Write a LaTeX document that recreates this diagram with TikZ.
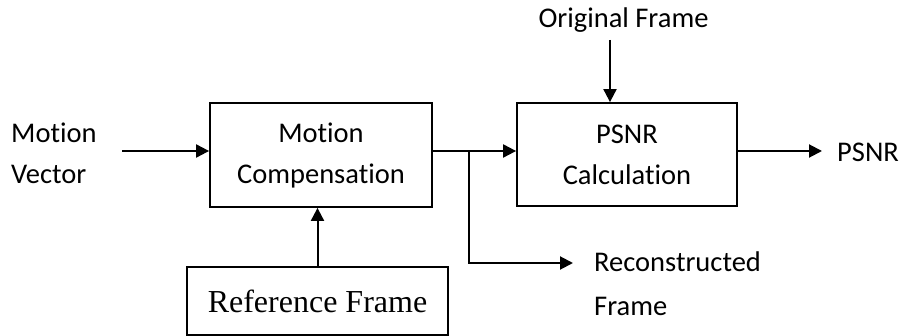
\documentclass[tikz,border=0pt]{standalone}
\usepackage{fontspec}
\setmainfont[Ligatures=NoCommon]{Carlito}
\newfontfamily\timesfont{Liberation Serif}
\usetikzlibrary{arrows.meta}
\begin{document}
\begin{tikzpicture}[x=1pt,y=-1pt,
  font=\fontsize{28.5pt}{41pt}\selectfont,
  block/.style={draw,line width=1.8pt,inner sep=0pt,align=center},
  label/.style={inner sep=0pt},
  flow/.style={line width=2pt,-{Triangle[length=13pt,width=13pt]}},
  wire/.style={line width=2pt}]
  \useasboundingbox (0,0) rectangle (902,336);

  % processing blocks
  \node[block,minimum width=222pt,minimum height=104pt] (mc) at (321,155) {Motion\\Compensation};
  \node[block,minimum width=220pt,minimum height=103pt] (ps) at (627,154.5) {PSNR\\Calculation};
  \node[block,minimum width=261pt,minimum height=68pt,
        font=\timesfont\fontsize{32pt}{36pt}\selectfont] (rf) at (317.5,301) {Reference Frame};

  % free labels
  \node[label,anchor=west,align=left] (mv) at (11,153.5) {Motion\\Vector};
  \node[label] (of) at (623.5,20) {Original Frame};
  \node[label,anchor=west] (po) at (837,152) {PSNR};
  \node[label,anchor=west,align=left,font=\fontsize{28.5pt}{44pt}\selectfont] (rc) at (594,284) {Reconstructed\\Frame};

  % connector end points
  \coordinate (mvend) at (122,151);
  \coordinate (ofend) at (610,40);
  \coordinate (split) at (469,151);
  \coordinate (rcend) at (469,263);
  \coordinate (rctip) at (573,263);
  \coordinate (poend) at (822,151);

  % connectors
  \draw[flow] (mvend) -- (mvend -| mc.west);
  \draw[flow] (ofend) -- (ofend |- ps.north);
  \draw[flow] (rf.north) -- (rf.north |- mc.south);
  \draw[flow] (split -| mc.east) -- (split -| ps.west);
  \draw[flow] (split -| ps.east) -- (poend);
  \draw[wire] (split) -- (rcend);
  \draw[flow] ([xshift=-1pt]rcend) -- (rctip);
\end{tikzpicture}
\end{document}
